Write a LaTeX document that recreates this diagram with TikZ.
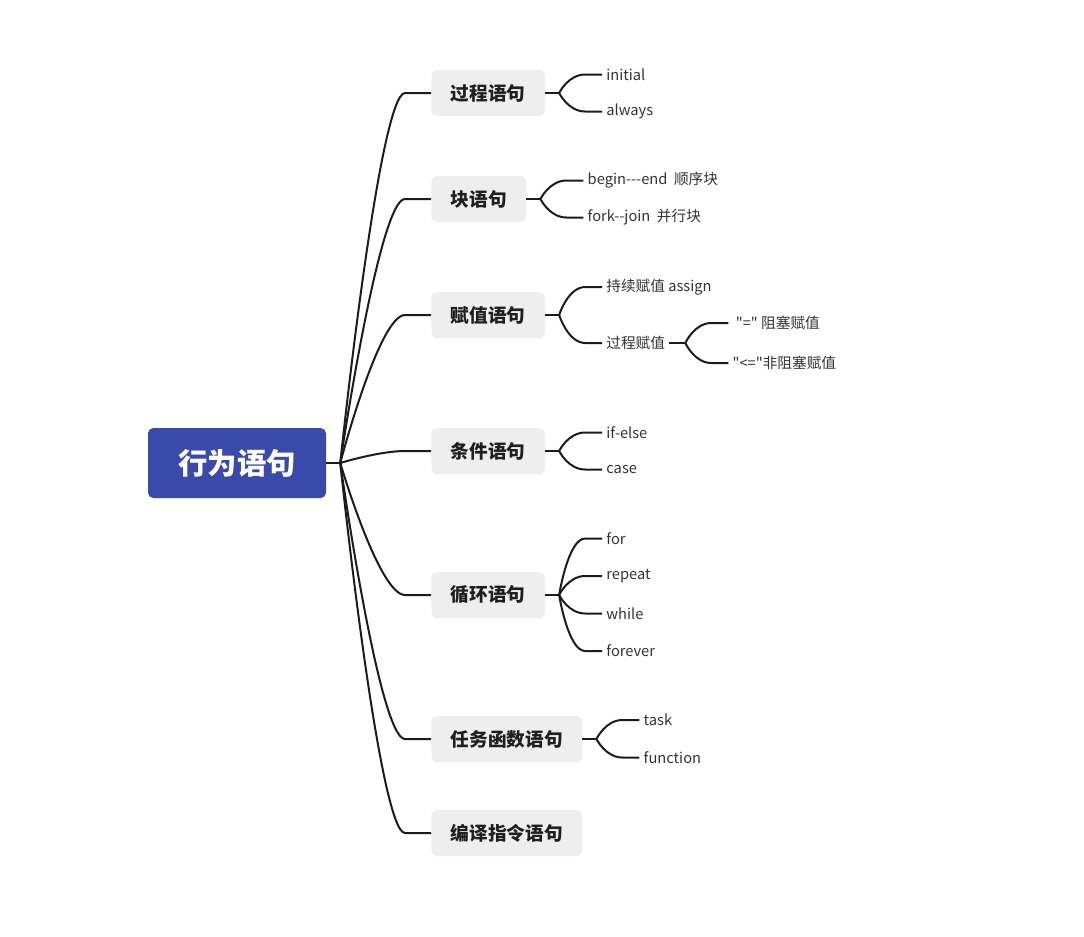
\documentclass[tikz,border=0pt]{standalone}
\usepackage{fontspec}
\setmainfont{Noto Sans CJK SC}[Ligatures=TeXOff]
\usetikzlibrary{calc}
\definecolor{rootblue}{RGB}{58,74,170}
\definecolor{topicgray}{RGB}{238,238,238}
\definecolor{linecol}{RGB}{28,28,28}

\begin{document}
\begin{tikzpicture}[x=0.75pt,y=-0.75pt,
        root/.style={rectangle, rounded corners=4pt, fill=rootblue, text=white, minimum width=133.5pt, minimum height=52.5pt, font=\fontsize{22}{26}\selectfont\bfseries},
        topic/.style={rectangle, rounded corners=4pt, fill=topicgray, text=black!88, inner xsep=14.6pt, minimum height=34.5pt, anchor=west, font=\fontsize{14}{17}\selectfont\bfseries},
        leaf/.style={inner xsep=3pt, inner ysep=2pt, anchor=west, text=black!80, font=\fontsize{11}{13}\selectfont},
        link/.style={line width=1.5pt, draw=linecol},
        branch/.style={to path={.. controls (\tikztostart) and ($(\tikztotarget)+(-2*#1,0)$) .. ($(\tikztotarget)+(-#1,0)$) -- (\tikztotarget)}}
    ]

    % Fix the page size
    \useasboundingbox (0,0) rectangle (1084,936);

    % Central topic
    \node[root] (root) at (237,463) {行为语句};

    % Main topics
    \node[topic] (t1) at (431,93) {过程语句};
    \node[topic] (t2) at (431,199) {块语句};
    \node[topic] (t3) at (431,315) {赋值语句};
    \node[topic] (t4) at (431,451) {条件语句};
    \node[topic] (t5) at (431,595) {循环语句};
    \node[topic] (t6) at (431,739) {任务函数语句};
    \node[topic] (t7) at (431,833) {编译指令语句};

    % Sub topics
    \node[leaf] (l11) at ($(t1.east)+(57,-18.5)$) {initial};
    \node[leaf] (l12) at ($(t1.east)+(57,18.5)$) {always};
    \node[leaf] (l21) at ($(t2.east)+(57,-18.5)$) {begin---end\ \ 顺序块};
    \node[leaf] (l22) at ($(t2.east)+(57,18.5)$) {fork--join\ \ 并行块};
    \node[leaf] (l31) at ($(t3.east)+(57,-28)$) {持续赋值 assign};
    \node[leaf] (l32) at ($(t3.east)+(57,28)$) {过程赋值};
    \node[leaf] (l321) at ($(l32.east)+(59,-20)$) {\ "=" 阻塞赋值};
    \node[leaf] (l322) at ($(l32.east)+(59,20)$) {"<="非阻塞赋值};
    \node[leaf] (l41) at ($(t4.east)+(57,-18.5)$) {if-else};
    \node[leaf] (l42) at ($(t4.east)+(57,18.5)$) {case};
    \node[leaf] (l51) at ($(t5.east)+(57,-56.5)$) {for};
    \node[leaf] (l52) at ($(t5.east)+(57,-19)$) {repeat};
    \node[leaf] (l53) at ($(t5.east)+(57,18.5)$) {while};
    \node[leaf] (l54) at ($(t5.east)+(57,56)$) {forever};
    \node[leaf] (l61) at ($(t6.east)+(57,-19)$) {task};
    \node[leaf] (l62) at ($(t6.east)+(57,18.5)$) {function};

    % Connectors from the central topic
    \draw[link] (root.east) -- ++(14,0) coordinate (h0);
    \foreach \t in {t1,t2,t3,t4,t5,t6,t7}
        \draw[link] (h0) to[branch=26] (\t.west);

    % Connectors to the sub topics
    \draw[link] (t1.east) -- ++(14,0) coordinate (h1);
    \draw[link] (t2.east) -- ++(14,0) coordinate (h2);
    \draw[link] (t3.east) -- ++(14,0) coordinate (h3);
    \draw[link] (t4.east) -- ++(14,0) coordinate (h4);
    \draw[link] (t5.east) -- ++(14,0) coordinate (h5);
    \draw[link] (t6.east) -- ++(14,0) coordinate (h6);
    \draw[link] (l32.east) -- ++(16,0) coordinate (h32);
    \foreach \h/\l in {h1/l11,h1/l12,h2/l21,h2/l22,h3/l31,h3/l32,h32/l321,h32/l322,h4/l41,h4/l42,h5/l51,h5/l52,h5/l53,h5/l54,h6/l61,h6/l62}
        \draw[link] (\h) to[branch=17] (\l.west);

\end{tikzpicture}
\end{document}
